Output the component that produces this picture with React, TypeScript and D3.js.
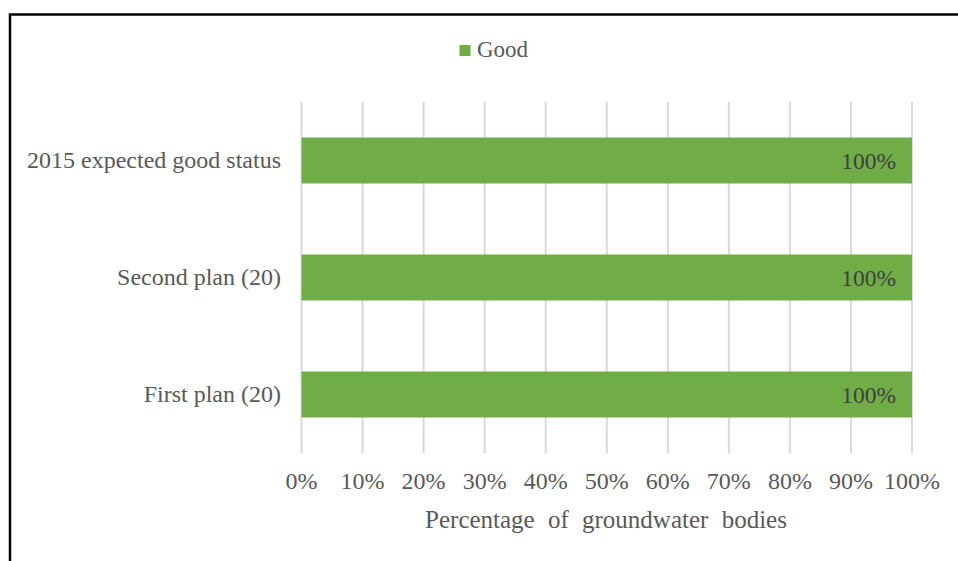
import React from "react";
import * as d3 from "d3";

// Groundwater bodies in good status, per planning cycle
const categories: string[] = ["2015 expected good status", "Second plan (20)", "First plan (20)"];
const goodValues: number[] = [100, 100, 100];
const xTicks: number[] = [0, 10, 20, 30, 40, 50, 60, 70, 80, 90, 100];
const seriesName = "Good";
const axisTitle = "Percentage of groundwater bodies";

const W = 958;
const H = 561;
const FONT = "'Liberation Serif', 'Times New Roman', serif";
const GREEN = "#70ad47";

export default function App() {
  const x = d3.scaleLinear().domain([0, 100]).range([301.5, 912]);
  const y = d3.scaleBand<string>().domain(categories).range([102, 453]).paddingInner(0.607).paddingOuter(0.3035);
  const fmt = (v: number) => `${v}%`;

  return (
    <svg width={W} height={H} style={{ position: "absolute", left: 0, top: 0, background: "#fff" }} fontFamily={FONT}>
      <rect x={0} y={0} width={W} height={H} fill="#fff" />
      {/* outer frame */}
      <rect x={10} y={14.5} width={W + 20} height={H + 20} fill="none" stroke="#000" strokeWidth={2.5} />

      {/* legend */}
      <rect x={459.5} y={45} width={11} height={11} fill={GREEN} />
      <text x={477} y={57} fontSize={23} fill="#595959">{seriesName}</text>

      {/* vertical gridlines */}
      {xTicks.map((t) => (
        <line key={t} x1={x(t)} x2={x(t)} y1={102} y2={453} stroke="#d9d9d9" strokeWidth={2} />
      ))}

      {/* bars */}
      {categories.map((c, i) => (
        <g key={c}>
          <rect x={x(0)} y={y(c)!} width={x(goodValues[i]) - x(0)} height={y.bandwidth()} fill={GREEN} />
          <text
            x={x(goodValues[i]) - 16}
            y={y(c)! + y.bandwidth() / 2 + 8}
            textAnchor="end"
            fontSize={23.5}
            fill="#404040"
          >
            {fmt(goodValues[i])}
          </text>
          <text x={281} y={y(c)! + y.bandwidth() / 2 + 7} textAnchor="end" fontSize={24} fill="#595959">
            {c}
          </text>
        </g>
      ))}

      {/* x tick labels */}
      {xTicks.map((t) => (
        <text key={t} x={x(t)} y={489} textAnchor="middle" fontSize={24} fill="#595959">
          {fmt(t)}
        </text>
      ))}

      {/* axis title */}
      <text x={606} y={528} textAnchor="middle" fontSize={25} wordSpacing={7} fill="#595959">
        {axisTitle}
      </text>
    </svg>
  );
}
